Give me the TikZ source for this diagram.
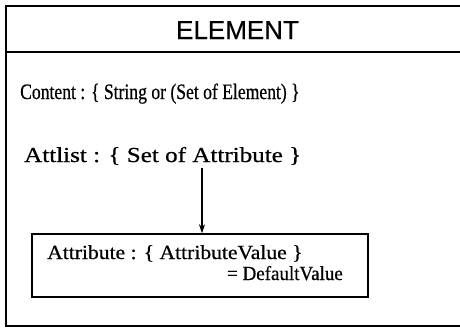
\documentclass[tikz,border=0pt]{standalone}
\usepackage{fontspec}
\setmainfont{Liberation Serif}[FakeBold=0.6]
\newfontfamily\headfont{Liberation Sans}[FakeBold=0.4]
\usetikzlibrary{arrows.meta}
\tikzset{
  frame/.style={draw, line width=1.8pt, inner sep=0pt},
  inbox/.style={draw, line width=1.4pt, inner sep=0pt},
  serif/.style={inner sep=0pt, font=\fontsize{22}{26}\selectfont},
  boxtext/.style={inner sep=0pt, font=\fontsize{20}{24}\selectfont},
  head/.style={inner sep=0pt, font=\headfont\fontsize{26}{31}\selectfont},
  link/.style={line width=1.3pt, -{Stealth[length=9pt,width=6pt]}}
}
\begin{document}
\begin{tikzpicture}[x=1pt,y=-1pt]
\clip (0,0) rectangle (460,333);
\fill[white] (0,0) rectangle (460,333);
% outer class frame, its right side runs off the page
\node[frame, minimum width=460pt, minimum height=320pt] (outer) at (236,166) {};
\draw[line width=1.6pt] (outer.west |- 0,52) coordinate (hl) -- (outer.east |- 0,52) coordinate (hr);
\node[head, anchor=base] (title) at (237.5,39) {ELEMENT};
\node[serif, anchor=base west] (content) at (20,99) {\scalebox{0.8}[1]{Content : \{ String or (Set of Element) \}}};
\node[serif, anchor=base west] (attlist) at (24,162) {\scalebox{1.14}[0.97]{Attlist : \{ Set of Attribute \}}};
% attribute box
\node[inbox, minimum width=336pt, minimum height=63pt] (attrbox) at (200,265.5) {};
\node[boxtext, anchor=base west] (attr1) at (47,259) {\scalebox{1.08}[1]{Attribute : \{ AttributeValue \}}};
\node[boxtext, anchor=base east] (attr2) at (343,280) {\scalebox{0.95}[1]{= DefaultValue}};
\coordinate (astart) at (202,168);
\draw[link] (astart) -- (astart |- attrbox.north);
\end{tikzpicture}
\end{document}
